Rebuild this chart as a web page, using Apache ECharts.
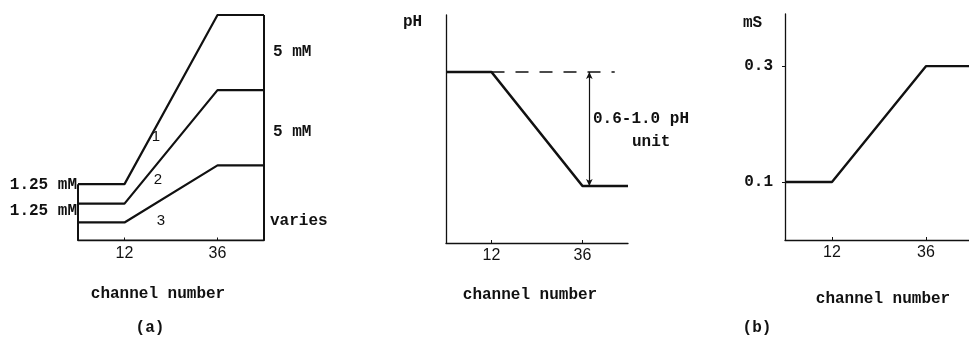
<!DOCTYPE html>
<html>
<head>
<meta charset="utf-8">
<script src="https://cdn.jsdelivr.net/npm/echarts@6/dist/echarts.min.js"></script>
<style>
  html, body { margin: 0; padding: 0; background: #fff; }
  #chart { width: 969px; height: 344px; }
</style>
</head>
<body>
<div id="chart"></div>
<script>
// Channel positions shared by every panel (break points of the gradients)
const channels = [0, 12, 36, 48];
const tickChannels = [12, 36];

// (a) buffer concentration profiles, mM
const curve1 = [3.75, 3.75, 15.0, 15.0];
const curve2 = [2.45, 2.45, 10.0, 10.0];
const curve3 = [1.2, 1.2, 5.0, 5.0];

// (b) pH profile and conductivity profile
const phValues = [7.0, 7.0, 6.2, 6.2];
const phDashEnd = 44.5;
const phArrowAt = 37.8;
const msValues = [0.1, 0.1, 0.3, 0.3];
const msTicks = [0.1, 0.3];

const mono = '"Liberation Mono", "DejaVu Sans Mono", monospace';
const sans = '"Liberation Sans", "DejaVu Sans", sans-serif';
const ink = '#111';
const monoFont = 'bold 16px ' + mono;

const pairs = (xs, ys) => xs.map((x, i) => [x, ys[i]]);

// closed outline of panel (a): left edge up to curve 1, floor, right edge up to curve 1
const last = channels.length - 1;
const frameA = [
  [channels[0], curve1[0]],
  [channels[0], 0],
  [channels[last], 0],
  [channels[last], curve1[last]]
];

function lineSeries(data, xi, yi, width, extra) {
  return Object.assign({
    type: 'line', xAxisIndex: xi, yAxisIndex: yi, data: data,
    showSymbol: false, symbol: 'none', silent: true, animation: false,
    lineStyle: { color: ink, width: width }
  }, extra || {});
}

function label(text, x, y, align, font) {
  return { type: 'text', x: x, y: y,
    style: { text: text, align: align, verticalAlign: 'middle', font: font || monoFont, fill: ink } };
}

const xLabel = {
  customValues: tickChannels, color: ink, fontFamily: sans, fontSize: 16, margin: 5
};
const xTick = { show: true, customValues: tickChannels, inside: true, length: 3, lineStyle: { color: ink } };

const option = {
  backgroundColor: '#fff',
  animation: false,
  grid: [
    { left: 78, top: 15, width: 186, height: 225.5 },
    { left: 446, top: 15, width: 182, height: 228 },
    { left: 785, top: 14, width: 184, height: 226 }
  ],
  xAxis: [
    { gridIndex: 0, type: 'value', min: 0, max: 48, splitLine: { show: false },
      axisLine: { show: false }, axisTick: xTick, axisLabel: xLabel },
    { gridIndex: 1, type: 'value', min: 0, max: 48, splitLine: { show: false },
      axisLine: { show: true, onZero: false, lineStyle: { color: ink, width: 1.3 } },
      axisTick: xTick, axisLabel: xLabel },
    { gridIndex: 2, type: 'value', min: 0, max: 47, splitLine: { show: false },
      axisLine: { show: true, onZero: false, lineStyle: { color: ink, width: 1.3 } },
      axisTick: xTick, axisLabel: xLabel }
  ],
  yAxis: [
    { gridIndex: 0, type: 'value', min: 0, max: 15, show: false },
    { gridIndex: 1, type: 'value', min: 5.8, max: 7.4, splitLine: { show: false },
      axisLine: { show: true, onZero: false, lineStyle: { color: ink, width: 1.3 } },
      axisTick: { show: false }, axisLabel: { show: false } },
    { gridIndex: 2, type: 'value', min: 0, max: 0.39, splitLine: { show: false },
      axisLine: { show: true, onZero: false, lineStyle: { color: ink, width: 1.3 } },
      axisTick: { show: true, customValues: msTicks, length: 3, lineStyle: { color: ink } },
      axisLabel: { customValues: msTicks, margin: 12, color: ink, fontFamily: mono,
        fontWeight: 'bold', fontSize: 16, formatter: v => v.toFixed(1) } }
  ],
  series: [
    lineSeries(frameA, 0, 0, 2),
    lineSeries(pairs(channels, curve1), 0, 0, 2.2),
    lineSeries(pairs(channels, curve2), 0, 0, 2.2),
    lineSeries(pairs(channels, curve3), 0, 0, 2.2),
    lineSeries([[channels[1], phValues[1]], [phDashEnd, phValues[1]]], 1, 1, 1.5,
      { lineStyle: { color: ink, width: 1.5, type: [13, 11] } }),
    lineSeries(pairs(channels, phValues), 1, 1, 2.6, {
      markLine: {
        silent: true, symbol: ['arrow', 'arrow'], symbolSize: [5, 7],
        label: { show: false },
        lineStyle: { color: ink, width: 1.2, type: 'solid' },
        data: [[{ coord: [phArrowAt, phValues[0]] }, { coord: [phArrowAt, phValues[2]] }]]
      }
    }),
    lineSeries(pairs(channels, msValues), 2, 2, 2.4)
  ],
  graphic: [
    // panel (a) annotations
    label('1.25 mM', 77, 185, 'right'),
    label('1.25 mM', 77, 210.5, 'right'),
    label('5 mM', 273, 52, 'left'),
    label('5 mM', 273, 132, 'left'),
    label('varies', 270, 221, 'left'),
    label('1', 156, 137, 'center', '15px ' + sans),
    label('2', 158, 180, 'center', '15px ' + sans),
    label('3', 161, 221, 'center', '15px ' + sans),
    label('channel number', 158, 294, 'center'),
    label('(a)', 150, 328, 'center'),
    // panel (b), pH
    label('pH', 403, 22, 'left'),
    label('0.6-1.0 pH', 593, 119, 'left'),
    label('unit', 632, 142, 'left'),
    label('channel number', 530, 295, 'center'),
    // panel (b), conductivity
    label('mS', 743, 23, 'left'),
    label('channel number', 883, 299, 'center'),
    label('(b)', 757, 328, 'center')
  ]
};

const chart = echarts.init(document.getElementById('chart'), null, { renderer: 'canvas' });
chart.setOption(option);
</script>
</body>
</html>
